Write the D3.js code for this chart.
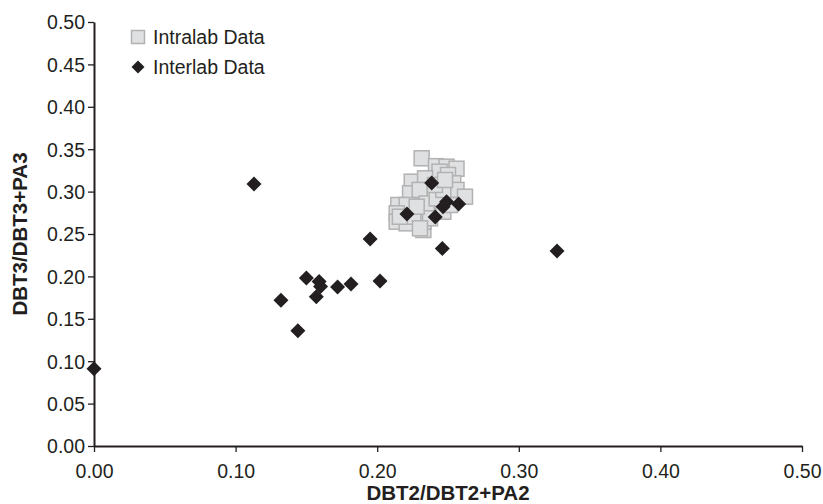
<!DOCTYPE html>
<html>
<head>
<meta charset="utf-8">
<script src="https://cdn.jsdelivr.net/npm/d3@7/dist/d3.min.js"></script>
<style>
  html, body { margin: 0; padding: 0; background: #ffffff; }
  svg { display: block; }
  text { font-family: Arial, "Liberation Sans", Helvetica, sans-serif; fill: #231f20; }
</style>
</head>
<body>
<svg id="chart" width="823" height="504"></svg>
<script>
// ---- data ----
const xTicks = [0, 0.1, 0.2, 0.3, 0.4, 0.5];
const yTicks = [0, 0.05, 0.1, 0.15, 0.2, 0.25, 0.3, 0.35, 0.4, 0.45, 0.5];
const xTitle = "DBT2/DBT2+PA2";
const yTitle = "DBT3/DBT3+PA3";
const legendLabels = ["Intralab Data", "Interlab Data"];

const intralabX = [0.2314, 0.2415, 0.249, 0.256, 0.244, 0.250, 0.2244, 0.2338, 0.2537, 0.256,
                   0.262, 0.2232, 0.235, 0.230, 0.2149, 0.2208, 0.235, 0.2138, 0.2138, 0.2208,
                   0.2326, 0.2326, 0.2373, 0.2255, 0.2467, 0.2514, 0.242, 0.2467, 0.2408, 0.2479,
                   0.2279, 0.2302, 0.216];
const intralabY = [0.3393, 0.330, 0.3294, 0.327, 0.3235, 0.3196, 0.3117, 0.3157, 0.3098, 0.302,
                   0.294, 0.298, 0.294, 0.302, 0.2842, 0.2842, 0.286, 0.2744, 0.2645, 0.2626,
                   0.2547, 0.2645, 0.2685, 0.2704, 0.2763, 0.2842, 0.292, 0.302, 0.3078, 0.3137,
                   0.2822, 0.2567, 0.2704];

const interlabX = [0.000, 0.113, 0.132, 0.144, 0.150, 0.157, 0.159, 0.160, 0.172, 0.1815,
                   0.195, 0.202, 0.221, 0.2385, 0.241, 0.2465, 0.249, 0.2575, 0.246, 0.327];
const interlabY = [0.091, 0.309, 0.172, 0.136, 0.198, 0.176, 0.194, 0.188, 0.1875, 0.191,
                   0.244, 0.1946, 0.2736, 0.310, 0.270, 0.282, 0.288, 0.2855, 0.233, 0.230];

// ---- layout ----
const svg = d3.select("#chart");
const x0 = 94, x1 = 802, yTop = 22, yBot = 446;
const x = d3.scaleLinear().domain([0, 0.5]).range([x0, x1]);
const y = d3.scaleLinear().domain([0, 0.5]).range([yBot, yTop]);
const ink = "#231f20";
const fs = 19.5;
const fsTitle = 20.5;

// axes
const xAxis = d3.axisBottom(x).tickValues(xTicks).tickFormat(d3.format(".2f")).tickSize(6).tickSizeOuter(0);
const yAxis = d3.axisLeft(y).tickValues(yTicks).tickFormat(d3.format(".2f")).tickSize(6).tickSizeOuter(0);

const gx = svg.append("g").attr("transform", `translate(0,${yBot})`).call(xAxis);
const gy = svg.append("g").attr("transform", `translate(${x0},0)`).call(yAxis);

[gx, gy].forEach(g => {
  g.select(".domain").attr("stroke", ink).attr("stroke-width", 2);
  g.selectAll(".tick line").attr("stroke", ink).attr("stroke-width", 1.3);
  g.selectAll(".tick text").attr("font-size", fs).attr("font-family", "Arial, 'Liberation Sans', sans-serif").attr("fill", ink);
});
gx.selectAll(".tick text").attr("y", 32).attr("dy", 0);
gy.selectAll(".tick text").attr("x", -9).attr("dy", "0.35em");

// axis titles
svg.append("text")
  .attr("x", (x0 + x1) / 2).attr("y", 500)
  .attr("text-anchor", "middle").attr("font-size", fsTitle).attr("font-weight", "bold")
  .text(xTitle);
svg.append("text")
  .attr("transform", `translate(27,${(yTop + yBot) / 2}) rotate(-90)`)
  .attr("text-anchor", "middle").attr("font-size", fsTitle).attr("font-weight", "bold")
  .text(yTitle);

// marks
const sq = 15;
const intralab = intralabX.map((v, i) => ({ x: v, y: intralabY[i] }));
const interlab = interlabX.map((v, i) => ({ x: v, y: interlabY[i] }));

svg.append("g").selectAll("rect").data(intralab).join("rect")
  .attr("x", d => x(d.x) - sq / 2).attr("y", d => y(d.y) - sq / 2)
  .attr("width", sq).attr("height", sq)
  .attr("fill", "#dfe0e2").attr("stroke", "#b2b2b2").attr("stroke-width", 1.5);

const diamond = r => `M0,${-r}L${r},0L0,${r}L${-r},0Z`;
svg.append("g").selectAll("path").data(interlab).join("path")
  .attr("transform", d => `translate(${x(d.x)},${y(d.y)})`)
  .attr("d", diamond(7.5))
  .attr("fill", ink);

// legend
const lg = svg.append("g");
lg.append("rect").attr("x", 138 - 6.5).attr("y", 37 - 6.5).attr("width", 13).attr("height", 13)
  .attr("fill", "#dfe0e2").attr("stroke", "#b2b2b2").attr("stroke-width", 1.5);
lg.append("path").attr("transform", "translate(138,67)").attr("d", diamond(6.5)).attr("fill", ink);
lg.selectAll("text").data(legendLabels).join("text")
  .attr("x", 153).attr("y", (d, i) => 37 + i * 30).attr("dy", "0.35em")
  .attr("font-size", fs).text(d => d);
</script>
</body>
</html>
